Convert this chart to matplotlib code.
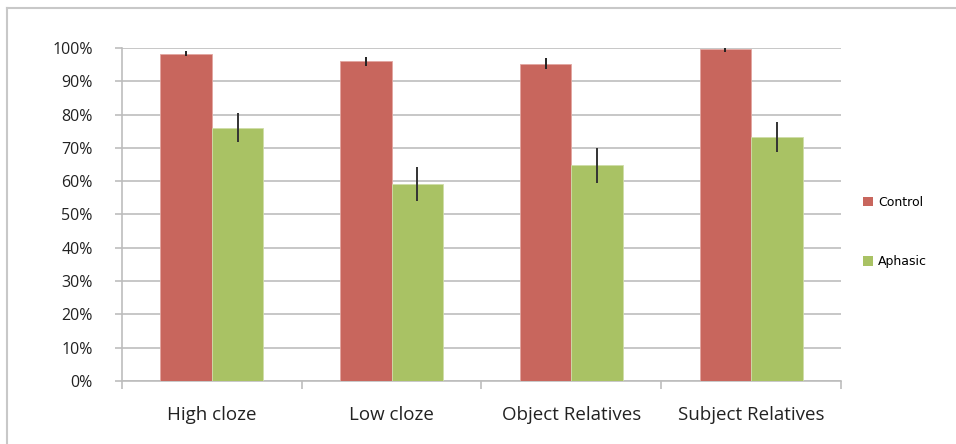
import numpy as np
import matplotlib.pyplot as plt
from matplotlib.lines import Line2D
from matplotlib.patches import Patch

# datos
categorias = ["High cloze", "Low cloze", "Object Relatives", "Subject Relatives"]
control = [0.983, 0.960, 0.953, 0.996]
control_err = [0.008, 0.014, 0.016, 0.007]
afasico = [0.761, 0.592, 0.648, 0.732]
afasico_err = [0.044, 0.050, 0.052, 0.045]

rojo = "#C8665D"
verde = "#A9C264"
gris = "#BDBDBD"

fig = plt.figure(figsize=(9.56, 4.44), dpi=100)
ax = fig.add_axes([0.1276, 0.1419, 0.7521, 0.75])

x = np.arange(len(categorias))
w = 0.287

ax.bar(x - w/2, control, w, color=rojo, edgecolor="#E2A6A0", linewidth=0.6,
       yerr=control_err, error_kw=dict(ecolor="#222222", elinewidth=1.4, capsize=0),
       zorder=3, label="Control")
ax.bar(x + w/2, afasico, w, color=verde, edgecolor="#CFDDA8", linewidth=0.6,
       yerr=afasico_err, error_kw=dict(ecolor="#333333", elinewidth=1.4, capsize=0),
       zorder=3, label="Aphasic")

ax.set_xlim(-0.5, 3.5)
ax.set_ylim(0, 1)
ax.set_yticks(np.arange(0, 1.01, 0.1))
ax.set_yticklabels([f"{int(round(v*100))}%" for v in np.arange(0, 1.01, 0.1)],
                   fontfamily="Open Sans", fontsize=11.5, color="#222222")
ax.yaxis.grid(True, color=gris, linewidth=1.2, zorder=0)
ax.set_axisbelow(True)

# ticks de categorias en los bordes
ax.set_xticks(np.arange(-0.5, 3.6, 1))
ax.set_xticklabels([])
ax.set_xticks(x, minor=True)
ax.set_xticklabels(categorias, minor=True, fontfamily="Open Sans", fontsize=13.5,
                   color="#222222")
ax.tick_params(axis="x", which="major", length=6, color=gris, width=1.2, direction="out")
ax.tick_params(axis="x", which="minor", length=0, pad=18)
ax.tick_params(axis="y", length=5, color=gris, width=1.2, pad=16)

for s in ["top", "right"]:
    ax.spines[s].set_visible(False)
for s in ["left", "bottom"]:
    ax.spines[s].set_color(gris)
    ax.spines[s].set_linewidth(1.2)

handles = [Patch(facecolor=rojo, edgecolor="none"), Patch(facecolor=verde, edgecolor="none")]
fig.legend(handles, ["Control", "Aphasic"], loc="center left",
           bbox_to_anchor=(0.891, 1 - 232/444), frameon=False,
           prop=dict(family="DejaVu Sans", size=9), handlelength=0.8, handleheight=0.8,
           handletextpad=0.4, labelspacing=3.7)

# marco exterior
fig.add_artist(Line2D([7/956, 1], [1 - 8/444, 1 - 8/444], color="#C8C8C8", linewidth=1.5,
                      transform=fig.transFigure))
fig.add_artist(Line2D([7/956, 7/956], [0, 1 - 8/444], color="#C8C8C8", linewidth=1.5,
                      transform=fig.transFigure))

fig.savefig("out.png", dpi=100)
